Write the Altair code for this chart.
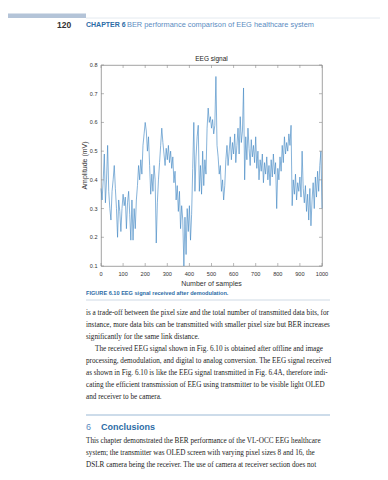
import altair as alt
import pandas as pd

# ---------------- data ----------------
samples = list(range(0, 1001, 5))
amplitude = [
    0.37, 0.33, 0.40, 0.49, 0.32, 0.40, 0.52, 0.36, 0.30, 0.26,
    0.36, 0.40, 0.45, 0.37, 0.30, 0.20, 0.33, 0.29, 0.22, 0.30,
    0.35, 0.31, 0.34, 0.23, 0.32, 0.36, 0.28, 0.19, 0.33, 0.19,
    0.30, 0.23, 0.33, 0.38, 0.45, 0.40, 0.47, 0.42, 0.52, 0.56,
    0.60, 0.57, 0.50, 0.55, 0.45, 0.35, 0.42, 0.36, 0.45, 0.40,
    0.18, 0.32, 0.40, 0.46, 0.52, 0.58, 0.53, 0.49, 0.45, 0.51,
    0.47, 0.52, 0.46, 0.50, 0.44, 0.48, 0.39, 0.43, 0.33, 0.38,
    0.29, 0.36, 0.23, 0.31, 0.26, 0.10, 0.27, 0.14, 0.30, 0.22,
    0.31, 0.19, 0.28, 0.44, 0.60, 0.36, 0.48, 0.55, 0.59, 0.36,
    0.45, 0.35, 0.50, 0.38, 0.47, 0.42, 0.58, 0.65, 0.60, 0.62,
    0.58, 0.61, 0.56, 0.59, 0.76, 0.52, 0.48, 0.42, 0.45, 0.36,
    0.40, 0.33, 0.38, 0.47, 0.52, 0.45, 0.50, 0.55, 0.47, 0.53,
    0.49, 0.56, 0.46, 0.52, 0.58, 0.49, 0.62, 0.53, 0.57, 0.72,
    0.40, 0.55, 0.47, 0.58, 0.51, 0.45, 0.54, 0.48, 0.52, 0.46,
    0.55, 0.44, 0.50, 0.40, 0.47, 0.43, 0.49, 0.39, 0.46, 0.42,
    0.48, 0.40, 0.45, 0.38, 0.47, 0.41, 0.49, 0.42, 0.46, 0.30,
    0.44, 0.40, 0.48, 0.43, 0.52, 0.46, 0.55, 0.49, 0.53, 0.50,
    0.56, 0.52, 0.59, 0.31, 0.40, 0.35, 0.42, 0.33, 0.39, 0.36,
    0.41, 0.34, 0.50, 0.37, 0.32, 0.38, 0.29, 0.35, 0.26, 0.37,
    0.24, 0.33, 0.39, 0.30, 0.41, 0.34, 0.43, 0.36, 0.45, 0.50,
    0.30,
]
x_ticks = [0, 100, 200, 300, 400, 500, 600, 700, 800, 900, 1000]
x_tick_labels = ["0", "100", "200", "300", "400", "500", "600", "700", "800", "900", "1000"]
y_ticks = [0.1, 0.2, 0.3, 0.4, 0.5, 0.6, 0.7, 0.8]
y_tick_labels = ["0.1", "0.2", "0.3", "0.4", "0.5", "0.6", "0.7", "0.8"]

chart_title = "EEG signal"
x_title = "Number of samples"
y_title = "Amplitude (mV)"

page_number = "120"
chapter_label = "CHAPTER 6"
chapter_title = "BER performance comparison of EEG healthcare system"
caption = "FIGURE 6.10 EEG signal received after demodulation."
body_lines = [
    "is a trade-off between the pixel size and the total number of transmitted data bits, for",
    "instance, more data bits can be transmitted with smaller pixel size but BER increases",
    "significantly for the same link distance.",
    "The received EEG signal shown in Fig. 6.10 is obtained after offline and image",
    "processing, demodulation, and digital to analog conversion. The EEG signal received",
    "as shown in Fig. 6.10 is like the EEG signal transmitted in Fig. 6.4A, therefore indi-",
    "cating the efficient transmission of EEG using transmitter to be visible light OLED",
    "and receiver to be camera.",
]
section_number = "6"
section_title = "Conclusions"
conclusion_lines = [
    "This chapter demonstrated the BER performance of the VL-OCC EEG healthcare",
    "system; the transmitter was OLED screen with varying pixel sizes 8 and 16, the",
    "DSLR camera being the receiver. The use of camera at receiver section does not",
]

# ---------------- layout ----------------
W, H = 221, 201          # plot area
OX, OY = 101, 65         # page position of plot origin
PAGE_W, PAGE_H = 372, 464

SANS = "Liberation Sans, Arial, sans-serif"
SERIF = "Liberation Serif, Times New Roman, serif"
BLUE = "#2d6ca6"
LIGHTBLUE = "#5a8cbf"
AXIS = "#8a8a8a"


def X(px):
    return px - OX


def Y(py):
    return py - OY


def one(t):
    return pd.DataFrame({"t": [t]})


def text(t, x, y, size=7, color="#222", font=SANS, weight="normal", align="left", angle=0):
    return alt.Chart(one(t)).mark_text(
        align=align, baseline="middle", fontSize=size, color=color,
        font=font, fontWeight=weight, angle=angle,
    ).encode(text="t:N", x=alt.value(x), y=alt.value(y))


def hrule(x1, x2, y, color, width):
    return alt.Chart(one("r")).mark_rule(color=color, strokeWidth=width).encode(
        x=alt.value(x1), x2=alt.value(x2), y=alt.value(y)
    )


sig = pd.DataFrame({"sample": samples, "amp": amplitude})

xscale = alt.Scale(domain=[0, 1000], nice=False)
yscale = alt.Scale(domain=[0.1, 0.8], nice=False, zero=False)
xenc = alt.X("sample:Q", scale=xscale, axis=None)
yenc = alt.Y("amp:Q", scale=yscale, axis=None)

line = alt.Chart(sig).mark_line(color="#4589c4", strokeWidth=0.65).encode(x=xenc, y=yenc)

xt = pd.DataFrame({"sample": x_ticks, "label": x_tick_labels})
yt = pd.DataFrame({"amp": y_ticks, "label": y_tick_labels})
tick_style = dict(color=AXIS, strokeWidth=0.6)
ticks = [
    alt.Chart(xt).mark_rule(**tick_style).encode(x=xenc, y=alt.value(H), y2=alt.value(H - 3)),
    alt.Chart(xt).mark_rule(**tick_style).encode(x=xenc, y=alt.value(0), y2=alt.value(3)),
    alt.Chart(yt).mark_rule(**tick_style).encode(y=yenc, x=alt.value(0), x2=alt.value(3)),
    alt.Chart(yt).mark_rule(**tick_style).encode(y=yenc, x=alt.value(W), x2=alt.value(W - 3)),
]
tick_labels = [
    alt.Chart(xt).mark_text(fontSize=5.6, color="#333", font=SANS, align="center", baseline="middle").encode(
        x=xenc, y=alt.value(Y(274)), text="label:N"),
    alt.Chart(yt).mark_text(fontSize=5.5, color="#333", font=SANS, align="right", baseline="middle").encode(
        y=yenc, x=alt.value(X(97.5)), text="label:N"),
]

layers = [line] + ticks + tick_labels

# chart texts
layers += [
    text(chart_title, W / 2, Y(59), size=6.5, align="center"),
    text(x_title, W / 2, Y(284), size=7, align="center", color="#333"),
    text(y_title, X(84.5), H / 2, size=7, align="center", angle=270, color="#333"),
]

# page header
layers += [
    alt.Chart(one("bar")).mark_rect(color="#b4c4d8").encode(
        x=alt.value(X(8)), x2=alt.value(X(86)), y=alt.value(Y(13.5)), y2=alt.value(Y(18))),
    hrule(X(86), X(380), Y(18), "#dde4ec", 0.8),
    text(page_number, X(57), Y(25), size=8.5, weight="bold", color="#333"),
    text(chapter_label, X(86), Y(25), size=7, weight="bold", color=BLUE),
    text(chapter_title, X(127), Y(25), size=7.4, color=LIGHTBLUE),
]

# caption
layers += [
    text(caption, X(86), Y(293), size=5.6, weight="bold", color=BLUE),
    hrule(X(86), X(330), Y(300), "#c3d0de", 0.8),
]

# body text
LEAD = 12
for i, t in enumerate(body_lines):
    indent = 9 if i == 3 else 0
    layers.append(text(t, X(86 + indent), Y(313 + LEAD * i), size=7.2, font=SERIF))

layers += [
    hrule(X(86), X(330), Y(415), "#bcd0e3", 1.5),
    text(section_number, X(86), Y(427), size=9, color=LIGHTBLUE),
    text(section_title, X(101), Y(427), size=9, weight="bold", color=BLUE),
]
for i, t in enumerate(conclusion_lines):
    layers.append(text(t, X(86), Y(441 + LEAD * i), size=7.2, font=SERIF))

chart = alt.layer(*layers).properties(
    width=W, height=H,
    padding={"left": OX - 8, "top": OY - 8, "right": PAGE_W - (OX - 8) - W, "bottom": PAGE_H - (OY - 8) - H},
    autosize=alt.AutoSizeParams(type="none"),
    background="white",
).configure_view(stroke=AXIS, strokeWidth=0.8)

chart.save("out.html", embed_options={"renderer": "svg", "actions": False})
